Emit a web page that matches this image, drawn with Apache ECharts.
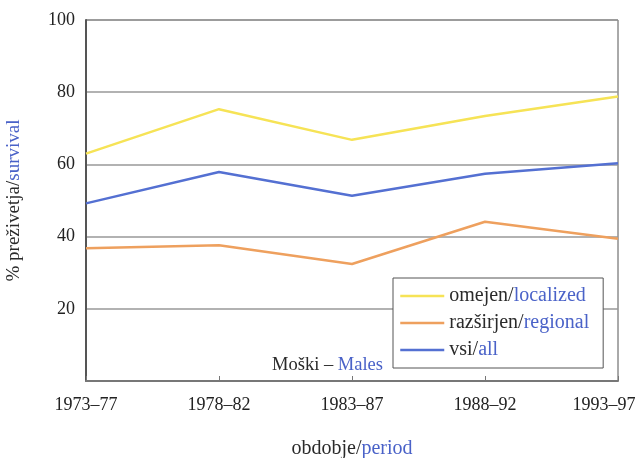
<!DOCTYPE html>
<html>
<head>
<meta charset="utf-8">
<title>Moški - Males</title>
<script src="https://cdn.jsdelivr.net/npm/echarts@6/dist/echarts.min.js"></script>
<style>
  html, body { margin: 0; padding: 0; background: #fff; }
  #chart { width: 640px; height: 458px; }
</style>
</head>
<body>
<div id="chart"></div>
<script>
var periods = ['1973–77', '1978–82', '1983–87', '1988–92', '1993–97'];
var localized = [63, 75.3, 66.8, 73.4, 78.8];
var regional = [36.8, 37.6, 32.4, 44.1, 39.4];
var all = [49.2, 57.9, 51.3, 57.4, 60.3];
var yTicks = [0, 20, 40, 60, 80, 100];

var fontFam = '"Liberation Serif", "DejaVu Serif", serif';
var blue = '#4a62c8';

function richPair(size) {
    return {
        a: { fontFamily: fontFam, fontSize: size, color: '#2a2a2a', fontWeight: 'normal' },
        b: { fontFamily: fontFam, fontSize: size, color: blue, fontWeight: 'normal' }
    };
}

var myChart = echarts.init(document.getElementById('chart'));
var lineS = function (name, data, color) {
    return {
        name: name,
        type: 'line',
        data: data,
        symbol: 'none',
        lineStyle: { color: color, width: 2.5 },
        itemStyle: { color: color }
    };
};

option = {
    animation: false,
    textStyle: { fontFamily: fontFam },
    grid: {
        left: 86, right: 22, top: 20, bottom: 77,
        outerBoundsMode: 'none',
        show: true,
        borderColor: '#555',
        borderWidth: 1
    },
    title: {
        text: '{a|Moški – }{b|Males}',
        left: 267, top: 351,
        textStyle: { rich: richPair(18.5) }
    },
    legend: {
        orient: 'vertical',
        left: 393, top: 278,
        width: 211,
        padding: [8, 14, 8, 6],
        itemGap: 7,
        itemWidth: 44,
        itemHeight: 19,
        backgroundColor: '#fff',
        borderColor: '#555',
        borderWidth: 1,
        itemStyle: { opacity: 0 },
        lineStyle: { width: 2.5 },
        data: ['omejen/localized', 'razširjen/regional', 'vsi/all'],
        formatter: function (name) {
            var p = name.split('/');
            return '{a|' + p[0] + '/}{b|' + p[1] + '}';
        },
        textStyle: { rich: richPair(20) }
    },
    xAxis: {
        type: 'category',
        data: periods,
        boundaryGap: false,
        name: '{a|obdobje/}{b|period}',
        nameLocation: 'middle',
        nameGap: 58,
        nameTextStyle: { rich: richPair(20) },
        axisLine: { lineStyle: { color: '#777', width: 2 } },
        axisTick: { inside: true, length: 5, interval: 0, lineStyle: { color: '#777' } },
        axisLabel: {
            interval: 0,
            hideOverlap: false,
            margin: 15, color: '#222', fontSize: 18, fontFamily: fontFam,
            formatter: function (v, i) {
                return i === periods.length - 1 ? '{last|' + v + '}' : v;
            },
            rich: {
                last: { fontSize: 18, fontFamily: fontFam, color: '#222', padding: [0, 28, 0, 0] }
            }
        },
        splitLine: { show: false }
    },
    yAxis: {
        type: 'value',
        min: yTicks[0],
        max: yTicks[yTicks.length - 1],
        interval: 20,
        name: '{a|% preživetja/}{b|survival}',
        nameLocation: 'middle',
        nameRotate: 90,
        nameGap: 62,
        nameTextStyle: { rich: richPair(19) },
        axisLine: { show: true, lineStyle: { color: '#555', width: 2 } },
        axisTick: { show: false },
        axisLabel: {
            margin: 11, color: '#222', fontSize: 18, fontFamily: fontFam,
            formatter: function (v) { return v === 0 ? '' : v; }
        },
        splitLine: { lineStyle: { color: '#999', width: 1.5 } }
    },
    series: [
        lineS('omejen/localized', localized, '#f6e356'),
        lineS('razširjen/regional', regional, '#eea05e'),
        lineS('vsi/all', all, '#5470d2')
    ]
};
myChart.setOption(option);
</script>
</body>
</html>
